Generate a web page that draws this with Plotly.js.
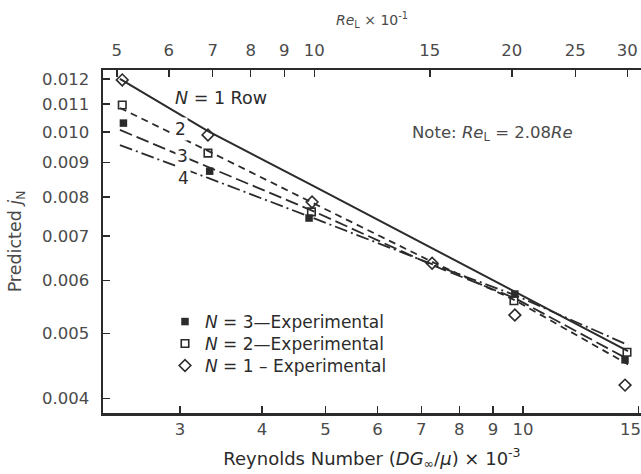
<!DOCTYPE html>
<html>
<head>
<meta charset="utf-8">
<script src="https://cdn.plot.ly/plotly-3.0.1.min.js"></script>
<style>html,body{margin:0;padding:0;background:#fff;}#chart{width:641px;height:474px;}</style>
</head>
<body>
<div id="chart"></div>
<script>
// ---- data ----
// Reynolds number (DG/mu) x 10^-3 at which the predicted curves were read
const predRe = [2.43, 3.31, 4.79, 7.27, 9.72, 14.46];
// Predicted j_N for N = 1..4 rows
const predN1 = [0.01200, 0.01003, 0.00831, 0.00671, 0.00579, 0.00471];
const predN2 = [0.01086, 0.00937, 0.00783, 0.00640, 0.00561, 0.00450];
const predN3 = [0.01007, 0.00887, 0.00762, 0.00633, 0.00565, 0.00458];
const predN4 = [0.00956, 0.00854, 0.00744, 0.00635, 0.00571, 0.00481];

// Experimental points
const expN1Re = [2.45, 3.31, 4.77, 7.27, 9.72, 14.31];
const expN1j  = [0.01196, 0.00990, 0.00786, 0.00637, 0.00533, 0.00419];
const expN2Re = [2.45, 3.31, 4.76, 9.69, 14.41];
const expN2j  = [0.01097, 0.00930, 0.00760, 0.00560, 0.00469];
const expN3Re = [2.46, 3.33, 4.72, 9.72, 14.31];
const expN3j  = [0.01031, 0.00874, 0.00744, 0.00573, 0.00457];

// Axis ticks
const bottomTicks = [3, 4, 5, 6, 7, 8, 9, 10, 15];
const bottomTickText = ['3', '4', '5', '6', '7', '8', '9', '10', '15\u00a0\u00a0\u00a0'];
const topTicks = [5, 6, 7, 8, 9, 10, 15, 20, 25, 30];
const yTicks = [0.004, 0.005, 0.006, 0.007, 0.008, 0.009, 0.010, 0.011, 0.012];
const yTickText = ['0.004', '0.005', '0.006', '0.007', '0.008', '0.009', '0.010', '0.011', '0.012'];
const reLFactor = 2.08;

// ---- styles ----
const ink = '#2b2b2b';
const txt = '#4a4a4a';
const FONT = 'DejaVu Sans, Liberation Sans, Arial, sans-serif';

const xRange = [0.3598, 1.1800];
const traces = [
  {x: predRe, y: predN1, mode: 'lines', line: {color: ink, width: 2, dash: 'solid'}, showlegend: false, hoverinfo: 'skip'},
  {x: predRe, y: predN2, mode: 'lines', line: {color: ink, width: 1.8, dash: '7px,5px'}, showlegend: false, hoverinfo: 'skip'},
  {x: predRe, y: predN3, mode: 'lines', line: {color: ink, width: 1.8, dash: '13px,5px'}, showlegend: false, hoverinfo: 'skip'},
  {x: predRe, y: predN4, mode: 'lines', line: {color: ink, width: 1.8, dash: '13px,4px,2px,4px'}, showlegend: false, hoverinfo: 'skip'},
  {x: expN3Re, y: expN3j, mode: 'markers', name: '<i>N</i> = 3—Experimental', legend: 'legend',
   marker: {symbol: 'square', size: 7.5, color: ink}},
  {x: expN2Re, y: expN2j, mode: 'markers', name: '<i>N</i> = 2—Experimental', legend: 'legend2',
   marker: {symbol: 'square-open', size: 7.5, color: ink, line: {width: 1.6, color: ink}}},
  {x: expN1Re, y: expN1j, mode: 'markers', name: '<i>N</i> = 1 – Experimental', legend: 'legend3',
   marker: {symbol: 'diamond-open', size: 9, color: ink, line: {width: 1.6, color: ink}}},
  {x: [], y: [], xaxis: 'x2', mode: 'markers', showlegend: false, hoverinfo: 'skip'}
];

const px = (v) => (v - 103) / 538;
const py = (v) => (413 - v) / 343;

const ann = (x, y, text, size, color, bg) => ({
  xref: 'paper', yref: 'paper', x: px(x), y: py(y), xanchor: 'center', yanchor: 'middle',
  text: text, showarrow: false, font: {family: FONT, size: size, color: color},
  bgcolor: bg || 'rgba(0,0,0,0)', borderpad: 1
});

const legendAt = (rowY) => ({
  x: px(165), y: py(rowY), xanchor: 'left', yanchor: 'middle', bgcolor: 'rgba(0,0,0,0)',
  font: {family: FONT, size: 17, color: ink}
});

const layout = {
  width: 641, height: 474,
  margin: {l: 103, r: 0, t: 70, b: 61},
  paper_bgcolor: '#fff', plot_bgcolor: '#fff',
  font: {family: FONT, color: txt, size: 16},
  showlegend: true,
  legend: legendAt(322),
  legend2: legendAt(344),
  legend3: legendAt(366),
  xaxis: {type: 'log', range: xRange, tickvals: bottomTicks, ticktext: bottomTickText,
          ticks: 'inside', ticklen: 7, tickwidth: 1.5, tickcolor: ink,
          showline: true, linewidth: 2.5, linecolor: ink, showgrid: false, zeroline: false,
          tickfont: {family: FONT, size: 16.5, color: txt}, ticklabelstandoff: 0, ticklabeloverflow: 'allow',
          title: {text: 'Reynolds Number (<i>DG</i><sub>∞</sub>/<i>μ</i>) × 10<sup>-3</sup>', font: {family: FONT, size: 18, color: ink}, standoff: 14}},
  xaxis2: {type: 'log', overlaying: 'x', side: 'top', anchor: 'y',
           range: [xRange[0] + Math.log10(reLFactor), xRange[1] + Math.log10(reLFactor)],
           tickvals: topTicks, ticktext: topTicks.map(String),
           ticks: 'inside', ticklen: 7, tickwidth: 1.5, tickcolor: ink,
           showline: true, linewidth: 2.5, linecolor: ink, showgrid: false, zeroline: false,
           tickfont: {family: FONT, size: 16.5, color: txt}, ticklabelstandoff: 5, ticklabeloverflow: 'allow',
           title: {text: '<i>Re</i><sub>L</sub> × 10<sup>-1</sup>', font: {family: FONT, size: 14, color: txt}, standoff: 12}},
  yaxis: {type: 'log', range: [-2.4194, -1.9075], tickvals: yTicks, ticktext: yTickText,
          ticks: 'inside', ticklen: 7, tickwidth: 1.5, tickcolor: ink,
          showline: true, linewidth: 2.5, linecolor: ink, showgrid: false, zeroline: false,
          tickfont: {family: FONT, size: 16.5, color: txt}, ticklabelstandoff: 8,
          title: {text: 'Predicted <i>j</i><sub>N</sub>', font: {family: FONT, size: 17.5, color: txt}, standoff: 16}},
  annotations: [
    ann(221, 98, '<i>N</i> = 1 Row', 17.5, ink, '#fff'),
    ann(180, 129, '2', 17, ink, '#fff'),
    ann(182, 156, '3', 17, ink, '#fff'),
    ann(183, 178, '4', 17, ink, '#fff'),
    ann(492, 133, 'Note: <i>Re</i><sub>L</sub> = 2.08<i>Re</i>', 16.5, txt)
  ]
};

Plotly.newPlot('chart', traces, layout, {staticPlot: true, displayModeBar: false});
</script>
</body>
</html>
